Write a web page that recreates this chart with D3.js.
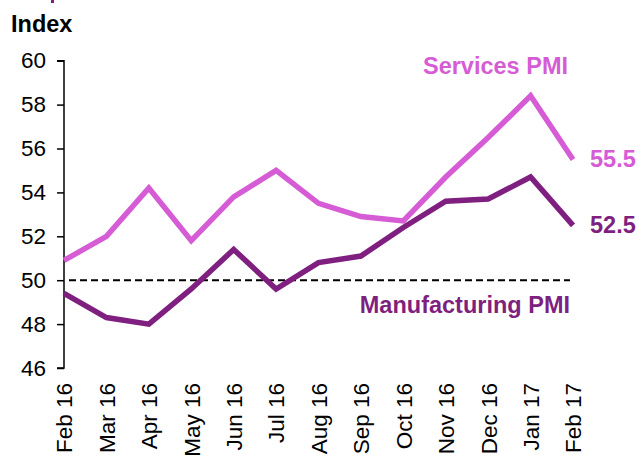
<!DOCTYPE html>
<html><head><meta charset="utf-8">
<script src="https://cdn.jsdelivr.net/npm/d3@7"></script>
<style>body{margin:0;background:#fff}svg{display:block}text{font-family:"Liberation Sans",Arial,sans-serif}</style>
</head><body>
<svg id="c" width="638" height="459"></svg>
<script>
const months = ["Feb 16","Mar 16","Apr 16","May 16","Jun 16","Jul 16","Aug 16","Sep 16","Oct 16","Nov 16","Dec 16","Jan 17","Feb 17"];
const services = [50.9,52.0,54.2,51.8,53.8,55.0,53.5,52.9,52.7,54.7,56.5,58.4,55.5];
const manufacturing = [49.4,48.3,48.0,49.6,51.4,49.6,50.8,51.1,52.4,53.6,53.7,54.7,52.5];
const yTicks = [46,48,50,52,54,56,58,60];
const threshold = 50;

const svcColor = "#d65cd6", mfgColor = "#7f1f7f";
const FONT = "Liberation Sans, Arial, sans-serif";
const svg = d3.select("#c");
const x = d3.scalePoint().domain(months).range([64, 573]);
const y = d3.scaleLinear().domain([46,60]).range([368, 60.7]);

// y axis
const ya = svg.append("g").attr("transform","translate(64,0)")
  .call(d3.axisLeft(y).tickValues(yTicks).tickSize(7).tickPadding(11).tickFormat(d3.format("d")));
ya.select(".domain").attr("stroke","#000").attr("stroke-width",1.5).attr("d","M-7,60.7H0V368H-7");
ya.selectAll(".tick line").attr("stroke","#000").attr("stroke-width",1.5);
ya.selectAll(".tick text").attr("font-size",22.5).attr("fill","#000").style("font-family",FONT);

// x labels
const xa = svg.append("g").attr("transform","translate(0,368)")
  .call(d3.axisBottom(x).tickSize(0).tickPadding(0));
xa.select(".domain").remove();
xa.selectAll(".tick text").attr("font-size",22.5).attr("fill","#000")
  .style("font-family",FONT).attr("font-weight","normal")
  .attr("text-anchor","end").attr("transform","translate(0,15) rotate(-90)")
  .attr("dy","0.35em").attr("y",0).attr("x",0);

// threshold
svg.append("line").attr("x1",x(months[0])+5).attr("x2",570).attr("y1",y(threshold)).attr("y2",y(threshold))
  .attr("stroke","#000").attr("stroke-width",2).attr("stroke-dasharray","7,4");

const line = d3.line().x((d,i)=>x(months[i])).y(d=>y(d));
svg.append("path").datum(services).attr("d",line).attr("fill","none").attr("stroke",svcColor).attr("stroke-width",5.5).attr("stroke-linejoin","miter");
svg.append("path").datum(manufacturing).attr("d",line).attr("fill","none").attr("stroke",mfgColor).attr("stroke-width",5.5).attr("stroke-linejoin","miter");

// labels
svg.append("text").attr("x",11).attr("y",32).attr("font-size",23.5).attr("font-weight","bold").attr("fill","#000").text("Index");
svg.append("rect").attr("x",51).attr("y",0).attr("width",3).attr("height",3).attr("fill",mfgColor);
svg.append("text").attr("x",568).attr("y",74).attr("text-anchor","end").attr("font-size",23.5).attr("font-weight","bold").attr("fill",svcColor).text("Services PMI");
svg.append("text").attr("x",570).attr("y",313).attr("text-anchor","end").attr("font-size",23.5).attr("font-weight","bold").attr("fill",mfgColor).text("Manufacturing PMI");
svg.append("text").attr("x",590).attr("y",y(services[12])+8).attr("font-size",23.5).attr("font-weight","bold").attr("fill",svcColor).text(d3.format(".1f")(services[12]));
svg.append("text").attr("x",590).attr("y",y(manufacturing[12])+8).attr("font-size",23.5).attr("font-weight","bold").attr("fill",mfgColor).text(d3.format(".1f")(manufacturing[12]));
</script>
</body></html>
